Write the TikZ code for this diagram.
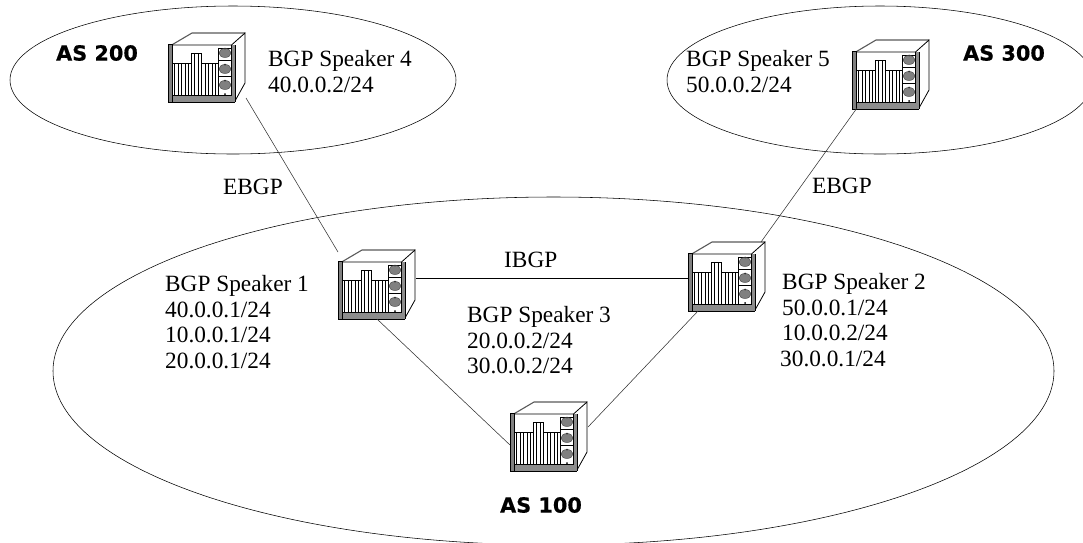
\documentclass[tikz,border=0pt]{standalone}
\usepackage{fontspec}
\setmainfont{Liberation Serif}
\newfontfamily\asfont{DejaVu Sans}[BoldFeatures={FakeBold=0.6}]
\tikzset{
  x=1pt,y=-1pt,
  asregion/.style={draw=black,line width=0.55pt},
  link/.style={draw=black!80,line width=0.55pt},
  ibgplink/.style={draw=black,line width=0.9pt},
  lbl/.style={font=\fontsize{23.3}{25.5}\selectfont,align=left,anchor=north west,inner sep=0pt},
  astag/.style={font=\asfont\bfseries\fontsize{20.8}{24}\selectfont,inner sep=0pt},
  pics/device/.style={code={
    \coordinate (-nw) at (0,2);
    \coordinate (-n) at (73,0);
    \coordinate (-e1) at (78,28);
    \coordinate (-e2) at (78,25);
    \coordinate (-se) at (78,65);
    \coordinate (-sm) at (39,69);
    \coordinate (-sa) at (5,68);
    \coordinate (-sb) at (10,69);
    \coordinate (-w1) at (0,36);
    \coordinate (-w2) at (0,43);
    % case top and side
    \draw[black!65,line width=1.1pt] (4.5,11.5) -- (24,0) -- (77,0);
    \draw[black,line width=0.8pt] (4.5,12) -- (63.5,12) -- (77,0) -- (77,50) -- (67,68);
    % bottom strip
    \fill[black!45] (4.5,62) rectangle (65,68.5);
    \draw[black,line width=1pt] (4.5,62) -- (64,62);
    % cards
    \draw[black,line width=1pt] (4.5,30) -- (23,30) -- (23,20) -- (33,20) -- (33,30) -- (50,30);
    \foreach \cx in {6,10,13.5,17,20.5,23,26,30,33,37,40.5,44,47.5}{
      \draw[black,line width=0.85pt] (\cx,30) -- (\cx,62);}
    \foreach \cx in {26,30}{\draw[black,line width=0.85pt] (\cx,20) -- (\cx,30);}
    % module column
    \draw[black,line width=0.7pt] (50,15) -- (63,15);
    \draw[black,line width=0.7pt] (50,15) -- (50,62);
    \foreach \my in {27,43}{\draw[black,line width=0.7pt] (50,\my) -- (63,\my);}
    \foreach \my in {20,36,52}{
      \fill[black!50] (57,\my) ellipse [x radius=6,y radius=4.5];
      \draw[black!75,line width=0.4pt] (57,\my) ellipse [x radius=6,y radius=4.5];
      \fill[black!80] (57,\my-4.5) circle [radius=1];}
    \fill[black] (57,61) circle [radius=1];
    % posts
    \fill[black!50] (0.5,12) rectangle (4.5,68.5);
    \draw[black,line width=0.7pt] (0,11.5) rectangle (4.5,69);
    \fill[black!45] (63.5,12) rectangle (67,68.5);
    \draw[black,line width=0.6pt] (63.5,12) -- (63.5,62) (67,12) -- (67,69);
    \draw[black,line width=0.8pt] (0,69) -- (67,69);
  }}
}
\begin{document}
\begin{tikzpicture}
\useasboundingbox (0,0) rectangle (1083,542);
\path[asregion] (233,80) ellipse [x radius=223,y radius=74];
\path[asregion] (880,80) ellipse [x radius=213,y radius=74];
\path[asregion] (553.5,371) ellipse [x radius=500.5,y radius=174];
\pic (d4) at (168,33) {device};
\pic (d5) at (852,40) {device};
\pic (d1) at (338,250) {device};
\pic (d2) at (688,242) {device};
\pic (d3) at (510,402) {device};
\path[link] (d4-se) -- (d1-nw);
\path[ibgplink] (d1-e1) -- (d2-w1);
\path[link] (d1-sm) -- (d3-w2);
\path[link] (d3-e2) -- (d2-sb);
\path[link] (d2-n) -- (d5-sa);
\node[lbl] (t4) at (268,50.5) {BGP Speaker 4\\40.0.0.2/24};
\node[lbl] (t5) at (686,50.5) {BGP Speaker 5\\50.0.0.2/24};
\node[lbl] (t1) at (165,275.5) {BGP Speaker 1\\40.0.0.1/24\\10.0.0.1/24\\20.0.0.1/24};
\node[lbl] (t2) at (782,273.5) {BGP Speaker 2\\50.0.0.1/24\\10.0.0.2/24\\\hspace*{-2pt}30.0.0.1/24};
\node[lbl] (t3) at (467,306.5) {BGP Speaker 3\\20.0.0.2/24\\30.0.0.2/24};
\node[lbl] (e1) at (223,178.5) {EBGP};
\node[lbl] (e2) at (812,177.5) {EBGP};
\node[lbl] (i1) at (504,251.5) {IBGP};
\node[astag] (as200) at (97,53) {AS 200};
\node[astag] (as300) at (1004,53) {AS 300};
\node[astag] (as100) at (541,505) {AS 100};
\end{tikzpicture}
\end{document}
